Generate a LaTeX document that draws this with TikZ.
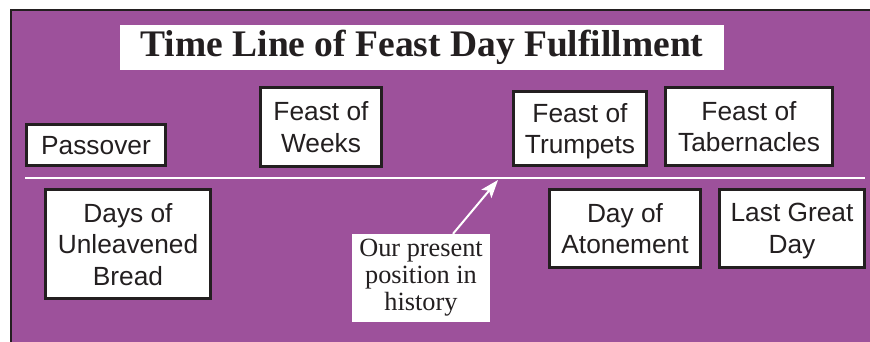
\documentclass[tikz,border=0pt]{standalone}
\usepackage{fontspec}
\setmainfont{Liberation Sans}
\newfontfamily\serifface{Liberation Serif}
\usetikzlibrary{arrows.meta}
\definecolor{bgpurple}{RGB}{157,81,155}
\definecolor{ink}{RGB}{35,31,32}
\begin{document}
\begin{tikzpicture}[x=1pt,y=-1pt,
  feastbox/.style={draw=ink, line width=3pt, fill=white, text=ink, align=center,
    inner sep=0pt, text depth=0pt, font=\fontsize{26.3}{31.5}\selectfont},
  titlebox/.style={fill=white, text=ink, inner sep=0pt,
    font=\serifface\bfseries\fontsize{37.5}{40}\selectfont},
  notebox/.style={fill=white, text=ink, align=center, inner sep=0pt,
    font=\serifface\fontsize{26.3}{27}\selectfont},
  timeline/.style={white, line width=2pt},
  pointer/.style={white, line width=2pt, -{Stealth[length=18pt,width=13pt,inset=4pt]}}]
\useasboundingbox (0,0) rectangle (870,341);
\fill[bgpurple] (10,9) rectangle (876,347);
\draw[ink, line width=2pt] (11,347) -- (11,10) -- (876,10);

\node[titlebox, minimum width=604pt, minimum height=45pt] (title) at (422,47.5)
  {Time Line of Feast Day Fulfillment};

\node[feastbox, minimum width=139pt, minimum height=41pt] (passover) at (96,145) {Passover};
\node[feastbox, minimum width=121pt, minimum height=79pt] (weeks) at (321,127) {Feast of\\Weeks};
\node[feastbox, minimum width=133pt, minimum height=74pt] (trumpets) at (580,128.5) {Feast of\\Trumpets};
\node[feastbox, minimum width=167pt, minimum height=78pt] (tabernacles) at (749,126.5) {Feast of\\Tabernacles};

\coordinate (lineL) at (25,178);
\coordinate (lineR) at (865,178);
\draw[timeline] (lineL) -- (lineR);

\node[feastbox, minimum width=165pt, minimum height=109pt] (unleavened) at (128,244) {Days of\\Unleavened\\Bread};
\node[feastbox, minimum width=151pt, minimum height=78pt] (atonement) at (625,228.5) {Day of\\Atonement};
\node[feastbox, minimum width=145pt, minimum height=78pt] (lastday) at (792,228.5) {Last Great\\Day};

\node[notebox, minimum width=138pt, minimum height=88pt] (present) at (421,278)
  {Our present\\position in\\history};
\coordinate (now) at (498,180);
\draw[pointer] ([xshift=32pt]present.north) -- (now);
\end{tikzpicture}
\end{document}
